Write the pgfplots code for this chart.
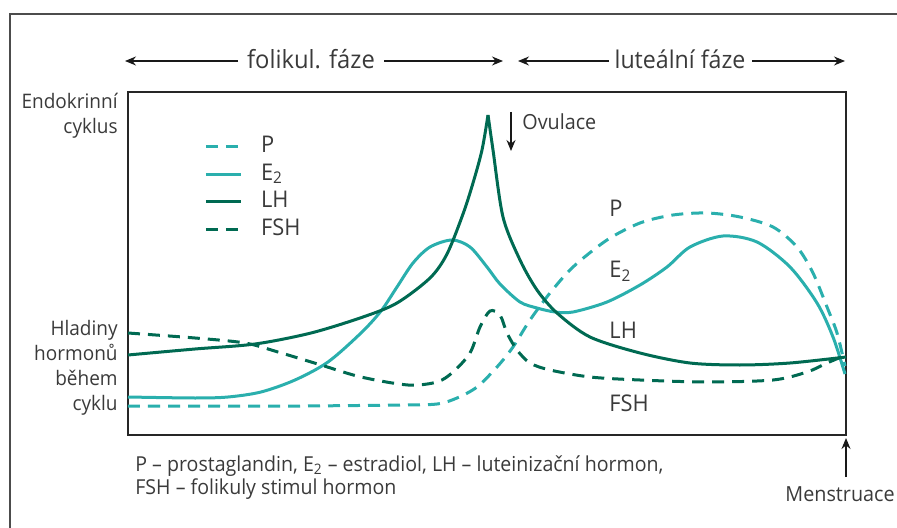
\documentclass[border=0pt]{standalone}
\usepackage{fontspec}
\setmainfont{Open Sans}[FakeStretch=0.95]
\usepackage{pgfplots}
\pgfplotsset{compat=1.18}
\usetikzlibrary{arrows.meta}
\definecolor{teal1}{HTML}{2AAFAD}
\definecolor{green1}{HTML}{006A52}
\definecolor{txt}{HTML}{3A3A3A}

\begin{document}
\begin{tikzpicture}[every node/.style={text=txt}]
\begin{axis}[
    scale only axis,
    width=359pt, height=171.5pt,
    xmin=128, xmax=846, ymin=92, ymax=435,
    y dir=reverse,
    axis line style={black!85, line width=0.6pt},
    ticks=none,
    clip=false,
    legend style={at={(axis cs:204,133)}, anchor=north west, draw=none, fill=none,
        font=\fontsize{11.5}{12}\selectfont, row sep=0.1pt, inner sep=0pt,
        nodes={inner sep=0.8pt, text=txt, text height=9pt, text depth=3pt}},
    legend cell align=left,
    legend image code/.code={\draw[#1] (0pt,0pt) -- (17.5pt,0pt); \path (26pt,0pt);},
]
\addplot[teal1, line width=1.5pt, dash pattern=on 6pt off 4pt, smooth] coordinates {
(128,406) (200,406) (300,406) (400,405) (437,404) (457,398) (477,387) (497,367)
(513,347) (530,320) (550,293) (573,267) (607,240) (640,223) (673,215) (707,213)
(740,217) (773,227) (797,247) (813,273) (827,307) (837,333) (845,366)};
\addlegendentry{P}
\addplot[teal1, line width=1.5pt, smooth] coordinates {
(128,397) (195,398) (228,397) (261,392) (295,380) (328,362) (361,333) (381,311)
(397,287) (413,263) (430,247) (452,240) (470,247) (487,267) (500,284) (520,302)
(537,308) (555,312) (573,312) (607,302) (640,285) (667,267) (690,247) (723,236)
(757,242) (790,267) (817,303) (833,337) (845,374)};
\addlegendentry{E\textsubscript{2}}
\addplot[green1, line width=1.5pt, smooth, line join=miter] coordinates {
(128,355) (195,349) (255,344) (311,333) (363,317) (397,303) (430,278)
(447,254) (463,214) (473,183) (482,150) (488,115)};
\addlegendentry{LH}
\addplot[green1, line width=1.5pt, smooth, forget plot] coordinates {
(488,115) (493,150) (503,217) (520,260) (537,290) (557,313) (590,337) (640,353)
(690,363) (740,365) (790,363) (846,357)};
\addplot[green1, line width=1.5pt, dash pattern=on 6pt off 4pt, smooth] coordinates {
(128,333) (195,338) (245,343) (278,352) (321,365) (361,377) (408,385) (437,382)
(453,372) (470,353) (480,327) (490,311) (500,315) (507,333) (517,350) (530,363)
(550,370) (590,377) (640,380) (707,382) (773,380) (807,372) (827,363) (846,355)};
\addlegendentry{FSH}

% outer frame
\draw[black!70, line width=0.8pt] (axis cs:10,540) -- (axis cs:10,14) -- (axis cs:900,14);
% phase arrows
\begin{scope}[line width=0.6pt, -{Stealth[length=5.5pt,width=4.5pt]}, black!90]
\draw (axis cs:238,61) -- (axis cs:125,61);
\draw (axis cs:384,61) -- (axis cs:503,61);
\draw (axis cs:609,61) -- (axis cs:518,61);
\draw (axis cs:752,61) -- (axis cs:845,61);
\end{scope}
\node[font=\fontsize{12.5}{14}\selectfont] at (axis cs:311,59) {folikul. fáze};
\node[font=\fontsize{12.2}{14}\selectfont] at (axis cs:680,59) {luteální fáze};
% left labels
\node[anchor=east, align=right, font=\fontsize{10}{12.5}\selectfont, inner sep=0pt] at (axis cs:118,116) {Endokrinní\\cyklus};
\node[anchor=east, align=right, font=\fontsize{10}{12.5}\selectfont, inner sep=0pt] at (axis cs:118,368) {Hladiny\\hormonů\\během\\cyklu};
% ovulation
\draw[line width=0.6pt, -{Stealth[length=5.5pt,width=4.5pt]}, black!90] (axis cs:511,112) -- (axis cs:511,151);
\node[anchor=west, font=\fontsize{10.4}{12}\selectfont, inner sep=0pt] at (axis cs:522,122) {Ovulace};
% curve labels
\begin{scope}[font=\fontsize{11.5}{12}\selectfont]
\node[anchor=west, inner sep=0pt] at (axis cs:609,208) {P};
\node[anchor=west, inner sep=0pt] at (axis cs:609,271) {E\textsubscript{2}};
\node[anchor=west, inner sep=0pt] at (axis cs:609,330) {LH};
\node[anchor=west, inner sep=0pt] at (axis cs:609,403) {FSH};
\end{scope}
% menstruation
\draw[line width=0.6pt, -{Stealth[length=5.5pt,width=4.5pt]}, black!90] (axis cs:846,477) -- (axis cs:846,438);
\node[anchor=east, font=\fontsize{10.4}{12}\selectfont, inner sep=0pt] at (axis cs:895,494) {Menstruace};
% caption
\node[anchor=north west, align=left, font=\fontsize{10.3}{11.6}\selectfont, inner sep=0pt] at (axis cs:135,455)
  {P – prostaglandin, E\textsubscript{2} – estradiol, LH – luteinizační hormon,\\FSH – folikuly stimul hormon};
\coordinate (tl) at (axis cs:0,0);
\coordinate (br) at (axis cs:897,528);
\end{axis}
\pgfresetboundingbox
\path[use as bounding box] (tl) rectangle (br);
\end{tikzpicture}
\end{document}
